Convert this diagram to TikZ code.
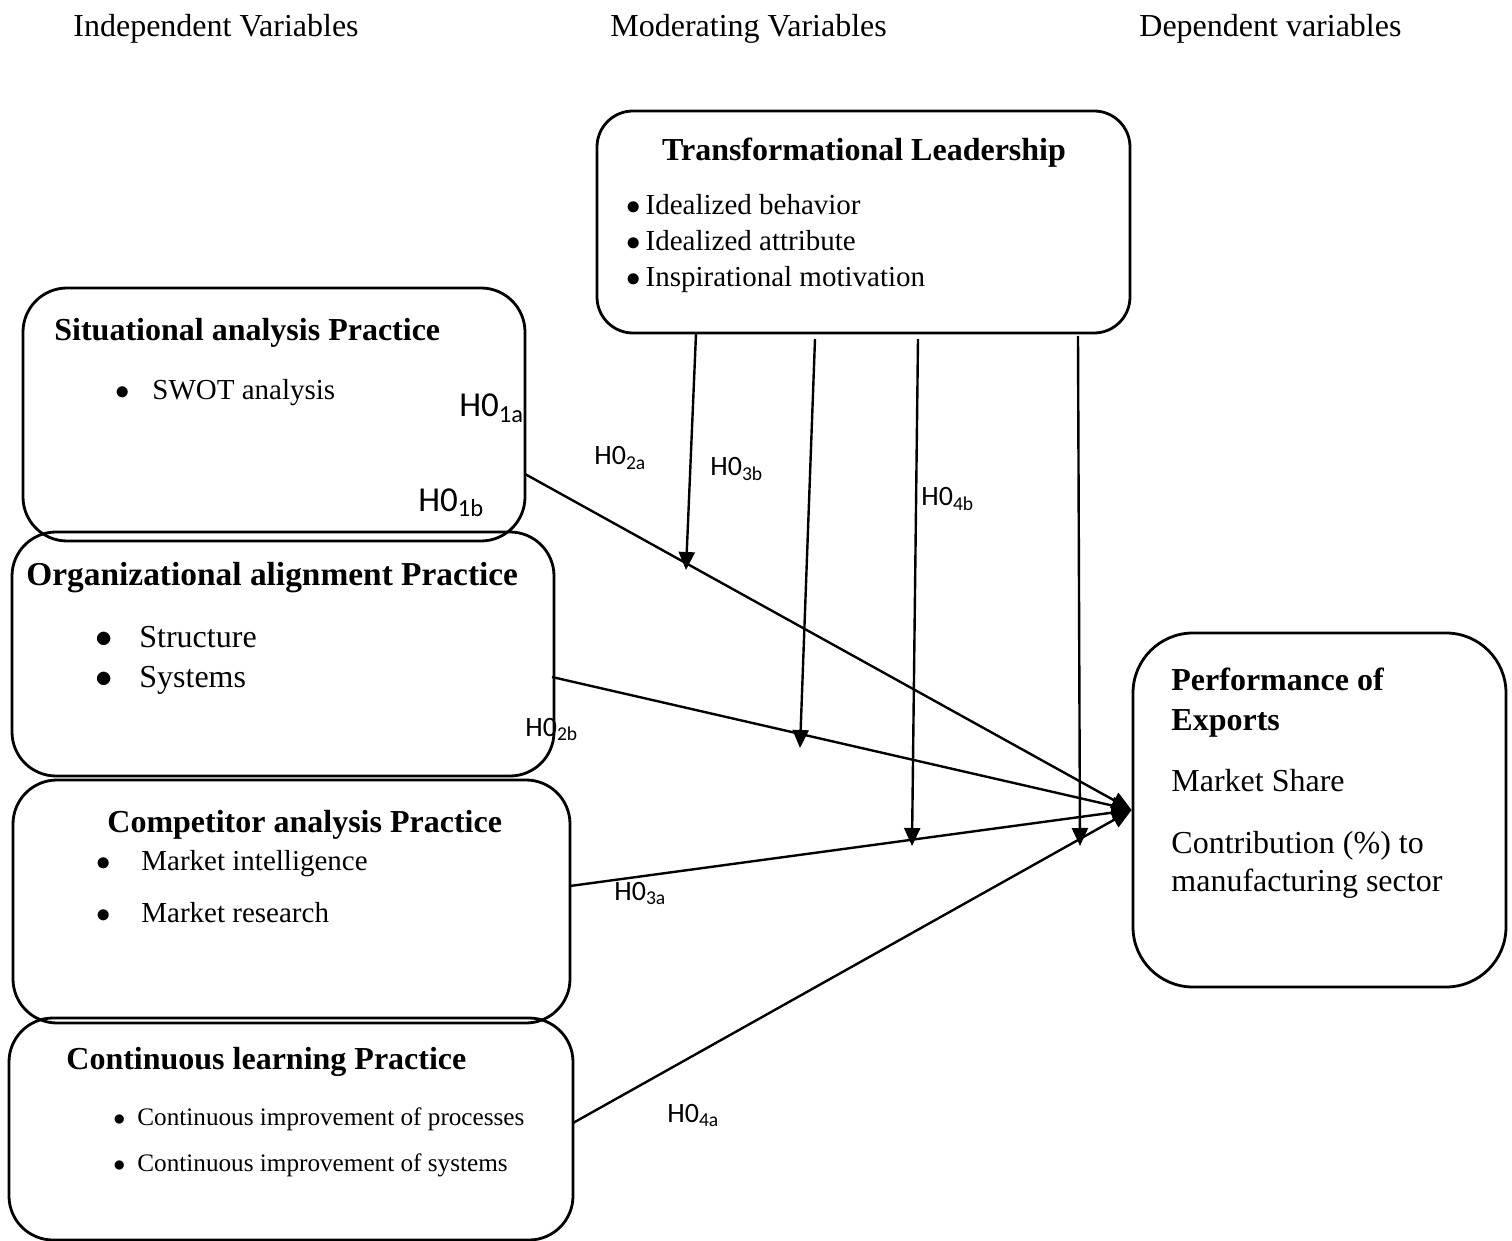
\documentclass[tikz,border=0pt]{standalone}
\usepackage{fontspec}
\setmainfont{Liberation Serif}
\newfontfamily\calib{Carlito}
\usetikzlibrary{arrows.meta,fit}
\begin{document}
\begin{tikzpicture}[x=0.5pt,y=-0.5pt,
  box/.style={draw, line width=1.4pt, rounded corners=22pt, inner sep=0pt},
  txt/.style={anchor=base west, inner sep=0pt},
  big/.style={txt, font=\fontsize{16}{19}\selectfont},
  bigb/.style={txt, font=\fontsize{16}{19}\selectfont\bfseries},
  mid/.style={txt, font=\fontsize{14.5}{17}\selectfont},
  sml/.style={txt, font=\fontsize{12.6}{15}\selectfont},
  hyL/.style={txt, font=\fontsize{17.5}{20}\selectfont\calib},
  hyS/.style={txt, font=\fontsize{14}{17}\selectfont\calib},
  conn/.style={line width=1.2pt, -{Triangle[length=10pt,width=8.5pt]}},
  vconn/.style={line width=1.2pt, -{Triangle[length=9pt,width=8pt]}}]
\useasboundingbox (0,0) rectangle (1512,1241);

% headers
\node[txt, font=\fontsize{16}{18}\selectfont] (h1) at (73,37) {Independent Variables};
\node[txt, font=\fontsize{16}{18}\selectfont] (h2) at (610,37) {Moderating Variables};
\node[txt, font=\fontsize{16}{18}\selectfont] (h3) at (1139,37) {Dependent variables};

% boxes
\node[box, rounded corners=18pt, fit={(597,111) (1130,333)}] (tl) {};
\node[box, fit={(23,288) (525,541)}] (sit) {};
\node[box, fit={(12,532) (554,776)}] (org) {};
\node[box, fit={(13,780) (570,1023)}] (comp) {};
\node[box, fit={(9,1018) (573,1240)}] (cont) {};
\node[box, rounded corners=30pt, fit={(1133,633) (1506,987)}] (perf) {};

% TL text
\node[bigb, anchor=base] (tlh) at (864,161) {Transformational Leadership};
\node[mid] (tl1) at (626,215) {$\bullet$\,Idealized behavior};
\node[mid] (tl2) at (626,251) {$\bullet$\,Idealized attribute};
\node[mid] (tl3) at (626,287) {$\bullet$\,Inspirational motivation};

% Situational
\node[bigb] (sith) at (54,341) {Situational analysis Practice};
\node[mid] (sitb) at (115,400) {$\bullet$};
\node[mid] (sit1) at (152,400) {SWOT analysis};

% Organizational
\node[txt, font=\fontsize{16.7}{19}\selectfont\bfseries] (orgh) at (26,585) {Organizational alignment Practice};
\node[big] (orgb1) at (95,647) {$\bullet$};
\node[big] (org1) at (139,647) {Structure};
\node[big] (orgb2) at (95,687) {$\bullet$};
\node[big] (org2) at (139,687) {Systems};

% Competitor
\node[bigb] (comph) at (107,832) {Competitor analysis Practice};
\node[mid] (compb1) at (96,870) {$\bullet$};
\node[mid] (comp1) at (141,870) {Market intelligence};
\node[mid] (compb2) at (96,922) {$\bullet$};
\node[mid] (comp2) at (141,922) {Market research};

% Continuous
\node[bigb] (conth) at (66,1069) {Continuous learning Practice};
\node[sml] (contb1) at (113,1125) {$\bullet$};
\node[sml] (cont1) at (137,1125) {Continuous improvement of processes};
\node[sml] (contb2) at (113,1171) {$\bullet$};
\node[sml] (cont2) at (137,1171) {Continuous improvement of systems};

% Performance
\node[bigb] (perf1) at (1171,690) {Performance of};
\node[bigb] (perf2) at (1171,730) {Exports};
\node[big] (perf3) at (1171,791) {Market Share};
\node[big] (perf4) at (1171,853) {Contribution (\%) to};
\node[big] (perf5) at (1171,891) {manufacturing sector};

% hypothesis labels
\node[hyL] (l1a) at (459,417) {H0\textsubscript{1a}};
\node[hyL] (l1b) at (418,511) {H0\textsubscript{1b}};
\node[hyS] (l2a) at (594,465) {H0\textsubscript{2a}};
\node[hyS] (l3b) at (710,476) {H0\textsubscript{3b}};
\node[hyS] (l4b) at (921,506) {H0\textsubscript{4b}};
\node[hyS] (l2b) at (525,736) {H0\textsubscript{2b}};
\node[hyS] (l3a) at (614,900) {H0\textsubscript{3a}};
\node[hyS] (l4a) at (667,1122) {H0\textsubscript{4a}};

% connector end points
\coordinate (s1) at (525,474);
\coordinate (s2) at (552,677);
\coordinate (s3) at (570,886);
\coordinate (s4) at (573,1123);
\coordinate (t1) at (696,334);
\coordinate (t2) at (815,339);
\coordinate (t3) at (918,339);
\coordinate (t4) at (1078,336);
\coordinate (m1) at (686,570);
\coordinate (m2) at (800,748);
\coordinate (m3) at (912,846);
\coordinate (m4) at (1080,846);

\draw[conn] (s1) -- (perf.west);
\draw[conn] (s2) -- (perf.west);
\draw[conn] (s3) -- (perf.west);
\draw[conn] (s4) -- (perf.west);
\draw[vconn] (t1) -- (m1);
\draw[vconn] (t2) -- (m2);
\draw[vconn] (t3) -- (m3);
\draw[vconn] (t4) -- (m4);
\end{tikzpicture}
\end{document}
